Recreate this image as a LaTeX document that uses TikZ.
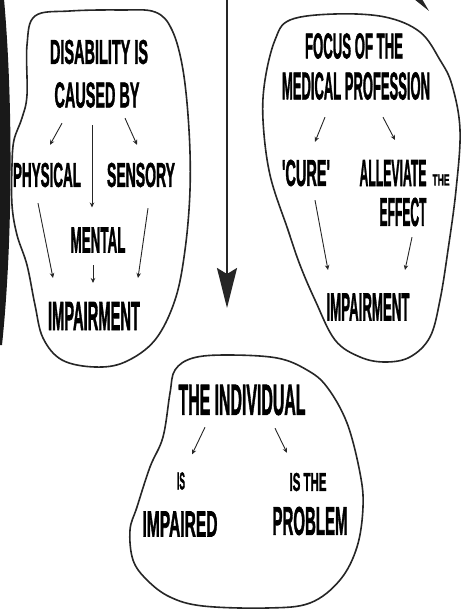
\documentclass[tikz,border=0pt]{standalone}
\usepackage{fontspec}
\setmainfont{Liberation Sans}
\newfontfamily\hw[FakeBold=2]{Liberation Sans}
\usetikzlibrary{calc,arrows.meta}
\newcommand\hx[3]{\resizebox{#1pt}{#2pt}{\hw\bfseries #3}}
\begin{document}
\begin{tikzpicture}[x=1pt,y=-1pt,
  blob/.style={line width=1.6pt,line join=round,black!85},
  arr/.style={line width=0.9pt,black!85,-{Stealth[length=5pt,width=4.5pt]}},
  txt/.style={inner sep=0pt,outer sep=0pt}]
\useasboundingbox (0,0) rectangle (461,609);
\fill[white] (0,0) rectangle (461,609);

% left black band and top-right stroke
\fill[black!90] (0,-1) -- (4,-1) .. controls (13,100) and (13,240) .. (2,345) -- (0,345) -- cycle;
\fill[black!85] (414,-1) -- (422,-1) -- (429,11) -- cycle;

% blobs
\draw[blob] plot[smooth cycle,tension=0.6] coordinates {
 (35,16) (70,11) (120,10) (155,12) (172,30) (183,70) (189,130) (190,190)
 (185,250) (175,300) (155,340) (125,362) (95,367) (62,360) (43,338) (35,305)
 (27,265) (17,235) (12,205) (12,165) (14,140) (22,118) (27,95) (27,45)};
\draw[blob] plot[smooth cycle,tension=0.6] coordinates {
 (290,20) (335,14) (385,17) (420,32) (440,60) (452,85) (460,130) (456,190)
 (448,250) (440,300) (430,337) (410,357) (385,362) (360,357) (335,340)
 (315,300) (300,265) (288,230) (270,175) (263,120) (265,80) (275,40)};
\draw[blob] plot[smooth cycle,tension=0.6] coordinates {
 (193,358) (227,355) (277,358) (307,370) (327,387) (347,423) (360,473)
 (363,507) (357,547) (340,580) (310,603) (267,608) (203,606) (170,597)
 (147,580) (133,560) (130,530) (137,507) (150,467) (163,437) (170,393) (175,370)};

% central arrow
\coordinate (ctop) at (227,-2);
\coordinate (cbot) at (227,308);
\draw[line width=2pt,black!85,-{Stealth[length=40pt,width=20pt,inset=6pt]}] (ctop) -- (cbot);

% left blob text
\node[txt] (dis)  at (99,52)  {\hx{98}{24}{DISABILITY IS}};
\node[txt] (cby)  at (97,95)  {\hx{85}{25}{CAUSED BY}};
\node[txt] (phys) at (47,175) {\hx{68}{24}{PHYSICAL}};
\node[txt] (sens) at (141,175){\hx{68}{24}{SENSORY}};
\node[txt] (ment) at (98,240) {\hx{55}{25}{MENTAL}};
\node[txt] (imp1) at (94,316) {\hx{92}{28}{IMPAIRMENT}};

\draw[arr] ($(cby.south)+(-35,15.5)$) -- ($(phys.north)+(3,-18)$);
\draw[arr] ($(cby.south)+(28,10.5)$) -- ($(sens.north)+(-4,-18)$);
\draw[arr] ($(cby.south)+(-5,17.5)$) -- ($(ment.north)+(-6,-20)$);
\draw[arr] ($(phys.south)+(-9,16)$) -- ($(imp1.north)+(-41,-24)$);
\draw[arr] ($(sens.south)+(7,21)$) -- ($(imp1.north)+(44,-24)$);
\draw[arr] ($(ment.south)+(-5,12.5)$) -- ($(imp1.north)+(-1,-19)$);

% right blob text
\node[txt] (foc)   at (354,46)  {\hx{98}{25}{FOCUS OF THE}};
\node[txt] (med)   at (356,86)  {\hx{148}{27}{MEDICAL PROFESSION}};
\node[txt] (cure)  at (306,173) {\hx{48}{26}{\textquotesingle CURE\textquotesingle}};
\node[txt] (allev) at (393,173) {\hx{67}{26}{ALLEVIATE}};
\node[txt] (the1)  at (441,180) {\hx{17}{11}{THE}};
\node[txt] (eff)   at (403,212) {\hx{47}{28}{EFFECT}};
\node[txt] (imp2)  at (368,307) {\hx{83}{27}{IMPAIRMENT}};

\draw[arr] ($(med.south)+(-31,17.5)$) -- ($(cure.north)+(9,-18)$);
\draw[arr] ($(med.south)+(27,17.5)$) -- ($(allev.north)+(2,-20)$);
\draw[arr] ($(cure.south)+(9,14)$) -- ($(imp2.north)+(-40,-23.5)$);
\draw[arr] ($(eff.south)+(9,11)$) -- ($(imp2.north)+(37,-23.5)$);

% bottom blob text
\node[txt] (ind)   at (242,400) {\hx{127}{30}{THE INDIVIDUAL}};
\node[txt] (is1)   at (181,481) {\hx{8}{17}{IS}};
\node[txt] (isthe) at (308,482) {\hx{37}{18}{IS THE}};
\node[txt] (impd)  at (180,524) {\hx{75}{25}{IMPAIRED}};
\node[txt] (prob)  at (310,521) {\hx{75}{28}{PROBLEM}};

\draw[arr] ($(ind.south)+(-37,12)$) -- ($(is1.north)+(11,-18)$);
\draw[arr] ($(ind.south)+(33,13)$) -- ($(isthe.north)+(-21,-20)$);
\end{tikzpicture}
\end{document}
